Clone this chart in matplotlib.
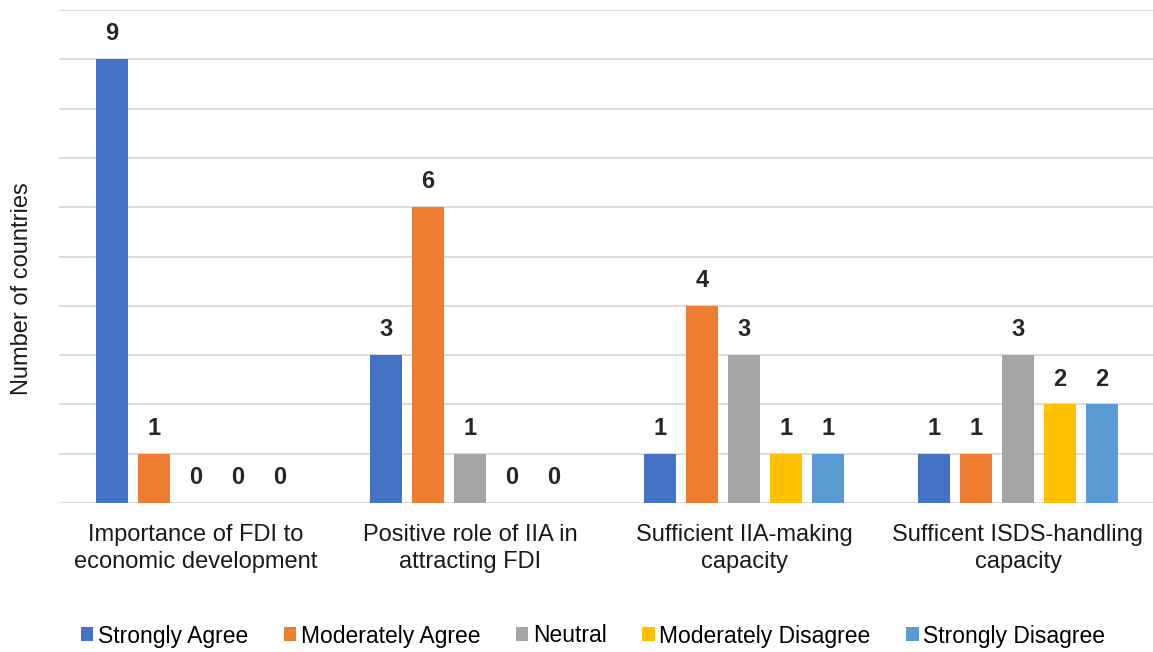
import matplotlib as mpl

mpl.use("Agg")
import matplotlib.pyplot as plt
import numpy as np

categories = [
    "Importance of FDI to\neconomic development",
    "Positive role of IIA in\nattracting FDI",
    "Sufficient IIA-making\ncapacity",
    "Sufficent ISDS-handling\ncapacity",
]
responses = [
    "Strongly Agree",
    "Moderately Agree",
    "Neutral",
    "Moderately Disagree",
    "Strongly Disagree",
]
strongly_agree = [9, 3, 1, 1]
moderately_agree = [1, 6, 4, 1]
neutral = [0, 1, 3, 3]
moderately_disagree = [0, 0, 1, 2]
strongly_disagree = [0, 0, 1, 2]
series = [strongly_agree, moderately_agree, neutral, moderately_disagree, strongly_disagree]
colors = ["#4472C4", "#ED7D31", "#A5A5A5", "#FFC000", "#5B9BD5"]

plt.rcParams["font.family"] = ["Liberation Sans", "DejaVu Sans"]

fig = plt.figure(figsize=(11.53, 6.52), dpi=100)
ax = fig.add_axes([59 / 1153, 1 - 503 / 652, 1096 / 1153, 493 / 652])

x = np.arange(len(categories))
step = 42 / 274
width = 32 / 274
for i, (name, vals, col) in enumerate(zip(responses, series, colors)):
    pos = x + (i - 2) * step
    bars = ax.bar(pos, vals, width=width, color=col, label=name, zorder=2)
    for b, v in zip(bars, vals):
        ax.annotate(
            f"{v}",
            (b.get_x() + b.get_width() / 2, v),
            xytext=(0, 10),
            textcoords="offset points",
            ha="center",
            va="bottom",
            fontsize=17,
            fontweight="bold",
            color="#262626",
        )

ax.set_xlim(-0.5, len(categories) - 0.5)
ax.set_ylim(0, 10)
ax.set_yticks(np.arange(0, 11, 1))
ax.set_yticklabels([])
ax.tick_params(axis="y", length=0)
ax.tick_params(axis="x", length=0, pad=15, labelsize=17, labelcolor="#1a1a1a")
ax.set_xticks(x)
ax.set_xticklabels(categories, linespacing=1.33)
ax.grid(axis="y", color="#D9D9D9", linewidth=1.3, zorder=0)
ax.set_axisbelow(True)
for s in ax.spines.values():
    s.set_visible(False)

fig.text(22 / 1153, 1 - 289 / 652, "Number of countries", rotation=90,
         ha="center", va="center", fontsize=17, color="#1a1a1a")

fig.legend(
    loc="center",
    bbox_to_anchor=(593 / 1153, 1 - 636 / 652),
    ncol=5,
    frameon=False,
    fontsize=16.5,
    handlelength=0.55,
    handleheight=0.55,
    handletextpad=0.2,
    columnspacing=1.55,
)

fig.savefig("out.png", dpi=100)
